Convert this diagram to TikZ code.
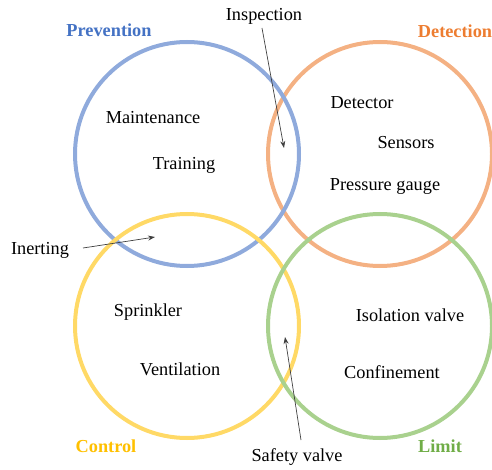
\documentclass[tikz,border=0pt]{standalone}
\usepackage{fontspec}
\setmainfont{Liberation Serif}
\usetikzlibrary{arrows.meta}
\definecolor{ringblue}{HTML}{8FAADC}
\definecolor{ringorange}{HTML}{F4B183}
\definecolor{ringyellow}{HTML}{FFD966}
\definecolor{ringgreen}{HTML}{A9D18E}
\definecolor{headblue}{HTML}{4472C4}
\definecolor{headorange}{HTML}{ED7D31}
\definecolor{headyellow}{HTML}{FFC000}
\definecolor{headgreen}{HTML}{70AD47}
\definecolor{pointer}{HTML}{404040}
\begin{document}
\begin{tikzpicture}[x=1pt,y=-1pt,
  ring/.style={circle,draw=#1,line width=4pt,inner sep=0pt,minimum size=224pt},
  item/.style={inner sep=0pt,font=\fontsize{18.3}{20}\selectfont},
  head/.style={inner sep=0pt,text=#1,font=\fontsize{18.3}{20}\selectfont\bfseries},
  pointer/.style={draw=pointer,line width=0.7pt,-{Stealth[length=7pt,width=5pt]}}]
\useasboundingbox (0,0) rectangle (492,470);

% the four overlapping rings (stacking order: orange, blue, yellow, green)
\node[ring=ringorange] (det)  at (380,154) {};
\node[ring=ringblue]   (prev) at (187,154) {};
\node[ring=ringyellow] (ctrl) at (187,326) {};
\node[ring=ringgreen]  (lim)  at (380,326) {};

% headings
\node[head=headblue]   (hprev) at (109,30)  {Prevention};
\node[head=headorange] (hdet)  at (455,31)  {Detection};
\node[head=headyellow] (hctrl) at (106,446) {Control};
\node[head=headgreen]  (hlim)  at (440,446) {Limit};

% measures inside the rings
\node[item] (maint) at (153,118) {Maintenance};
\node[item] (train) at (184,165) {Training};
\node[item] (detc)  at (362,103) {Detector};
\node[item] (sens)  at (406,143) {Sensors};
\node[item] (press) at (385,186) {Pressure gauge};
\node[item] (sprk)  at (148,312) {Sprinkler};
\node[item] (vent)  at (180,369) {Ventilation};
\node[item] (iso)   at (410,315) {Isolation valve};
\node[item] (conf)  at (392,372) {Confinement};

% measures in the overlaps, with pointers
\node[item] (insp)  at (264,16)  {Inspection};
\node[item] (inert) at (40,250)  {Inerting};
\node[item] (safe)  at (297,457) {Safety valve};

\coordinate (inspA) at (262,28);
\coordinate (inspB) at (284,148);
\coordinate (inertA) at (83,248);
\coordinate (inertB) at (155,237);
\coordinate (safeA) at (301,440);
\coordinate (safeB) at (285,337);

\draw[pointer] (inspA) -- (inspB);
\draw[pointer] (inertA) -- (inertB);
\draw[pointer] (safeA) -- (safeB);
\end{tikzpicture}
\end{document}
